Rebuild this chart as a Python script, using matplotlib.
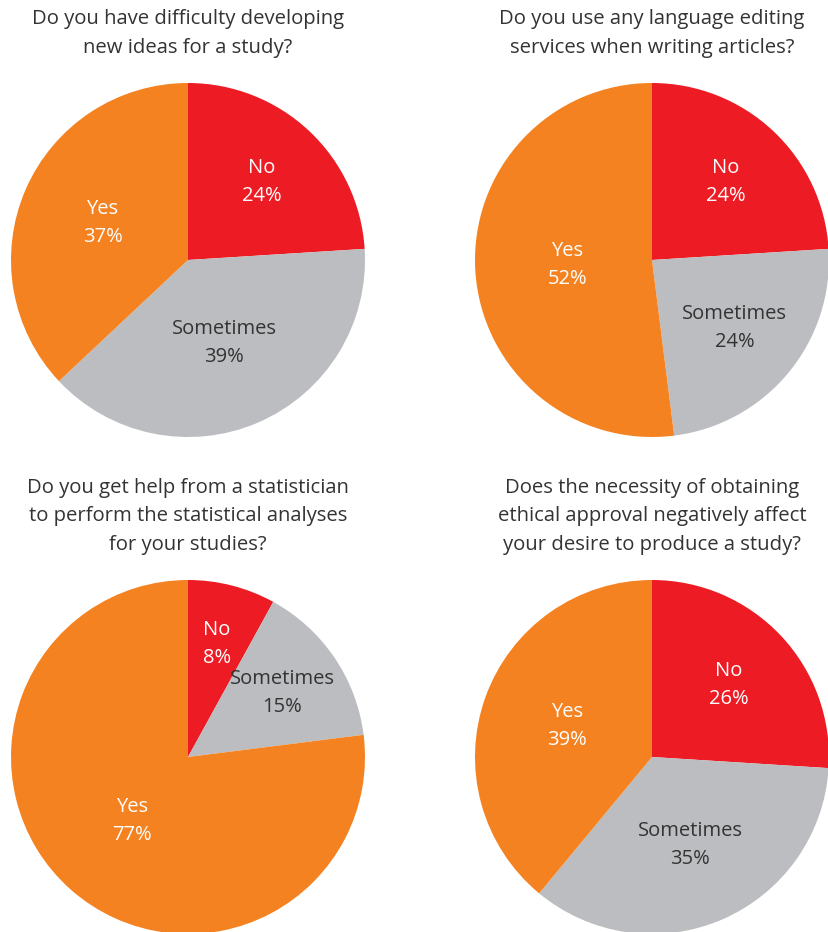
import numpy as np
import matplotlib.pyplot as plt

# survey answers, order: No, Sometimes, Yes (clockwise from 12 o'clock)
labels = ["No", "Sometimes", "Yes"]
q1 = [24, 39, 37]
q2 = [24, 24, 52]
q3 = [8, 15, 77]
q4 = [26, 35, 39]
titles = [
    "Do you have difficulty developing\nnew ideas for a study?",
    "Do you use any language editing\nservices when writing articles?",
    "Do you get help from a statistician\nto perform the statistical analyses\nfor your studies?",
    "Does the necessity of obtaining\nethical approval negatively affect\nyour desire to produce a study?",
]
colors = ["#ED1C24", "#BCBDC0", "#F58220"]
text_colors = ["white", "#333333", "white"]

W, H = 829, 932
R = 177
centers = [(188, 260), (652, 260), (188, 757), (652, 757)]

plt.rcParams['font.family'] = ['Open Sans', 'DejaVu Sans']

fig = plt.figure(figsize=(W / 100, H / 100), dpi=100)


def draw_pie(cx, cy, values, title):
    ax = fig.add_axes([(cx - R) / W, (H - cy - R) / H, 2 * R / W, 2 * R / H])
    ax.pie(values, colors=colors, startangle=90, counterclock=False, radius=1.0,
           wedgeprops=dict(linewidth=0))
    ax.set_xlim(-1, 1)
    ax.set_ylim(-1, 1)
    ax.set_aspect('equal')
    ax.axis('off')

    # labels at the wedge centroid, kept away from the centre for big wedges
    start = 90.0
    total = float(sum(values))
    for lab, v, tc in zip(labels, values, text_colors):
        span = 360.0 * v / total
        mid = np.deg2rad(start - span / 2)
        half = np.deg2rad(span / 2)
        d = 2.0 / 3.0 * np.sin(half) / half
        d = max(d, 0.48)
        ax.text(d * np.cos(mid), d * np.sin(mid), f"{lab}\n{v}%",
                ha='center', va='center', color=tc, fontsize=14.5,
                linespacing=1.55)
        start -= span

    fig.text(cx / W, (H - (cy - R - 25)) / H, title, ha='center', va='bottom',
             fontsize=14.6, color='#333333', linespacing=1.58)


for (cx, cy), vals, t in zip(centers, [q1, q2, q3, q4], titles):
    draw_pie(cx, cy, vals, t)

fig.savefig("out.png", dpi=100)
